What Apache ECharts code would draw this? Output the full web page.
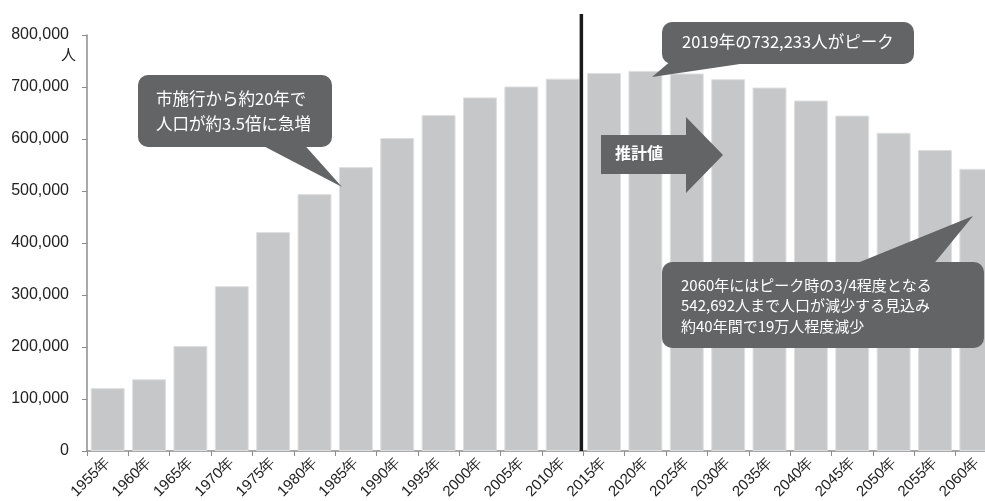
<!DOCTYPE html>
<html>
<head>
<meta charset="utf-8">
<script src="https://cdn.jsdelivr.net/npm/echarts@6/dist/echarts.min.js"></script>
<style>
  html, body { margin: 0; padding: 0; background: #fff; }
  #chart { width: 985px; height: 501px; }
</style>
</head>
<body>
<div id="chart"></div>
<script>
// Population by year (actual up to 2010, projection from 2015)
const years = ['1955年','1960年','1965年','1970年','1975年','1980年','1985年','1990年','1995年','2000年','2005年',
               '2010年','2015年','2020年','2025年','2030年','2035年','2040年','2045年','2050年','2055年','2060年'];
const population = [121000, 138000, 202000, 317000, 421000, 494000, 546000, 602000, 646000, 680000, 701000,
                    716000, 727000, 731000, 726000, 715000, 699000, 674000, 645000, 612000, 579000, 542692];
const yTicks = { min: 0, max: 800000, interval: 100000 };
const projectionStart = '2015年';

const chart = echarts.init(document.getElementById('chart'));
const calloutFill = '#636466';
const cjkFont = '"Noto Sans CJK JP", "Noto Sans", sans-serif';
const latinFont = '"Liberation Sans", Arial, sans-serif';

chart.setOption({
  animation: false,
  backgroundColor: '#ffffff',
  grid: { left: 87, right: -12, top: 35, bottom: 50, outerBoundsMode: 'none', containLabel: false },
  xAxis: {
    type: 'category',
    data: years,
    boundaryGap: true,
    axisLine: { lineStyle: { color: '#8c8c8c', width: 1.5 } },
    axisTick: { show: true, length: 5, lineStyle: { color: '#8c8c8c' } },
    axisLabel: { rotate: 45, fontSize: 15, color: '#222', margin: 9, interval: 0,
                 fontFamily: latinFont }
  },
  yAxis: {
    type: 'value',
    min: yTicks.min, max: yTicks.max, interval: yTicks.interval,
    splitLine: { show: false },
    axisLine: { show: true, lineStyle: { color: '#8c8c8c', width: 1.5 } },
    axisTick: { show: true, length: 5, lineStyle: { color: '#8c8c8c' } },
    axisLabel: {
      fontSize: 16, color: '#222', margin: 18, fontFamily: latinFont,
      formatter: v => v.toLocaleString('en-US')
    }
  },
  series: [{
    type: 'bar',
    data: population,
    barCategoryGap: '18%',
    itemStyle: { color: '#c6c7c9', borderColor: '#dedfe0', borderWidth: 1 },
    silent: true
  }]
});

// Divider between actual and projected values, placed midway between category centers
const idx = years.indexOf(projectionStart);
const xPrev = chart.convertToPixel({ xAxisIndex: 0 }, years[idx - 1]);
const xNext = chart.convertToPixel({ xAxisIndex: 0 }, years[idx]);
const dividerX = (xPrev + xNext) / 2 - 2;
const yBase = chart.convertToPixel({ yAxisIndex: 0 }, 0);

function callout(x, y, w, h, tail, lines, textX, textY, lineH, size) {
  return {
    type: 'group',
    z: 100,
    children: [
      { type: 'polygon', z: 100, shape: { points: tail }, style: { fill: calloutFill } },
      { type: 'rect', z: 100, shape: { x: x, y: y, width: w, height: h, r: 10 }, style: { fill: calloutFill } },
      { type: 'text', z: 101, x: textX, y: textY,
        style: { text: lines.join('\n'), fill: '#fff', font: size + 'px ' + cjkFont,
                 lineHeight: lineH, textVerticalAlign: 'top' } }
    ]
  };
}

chart.setOption({
  graphic: [
    { type: 'text', left: 61, top: 47, z: 100,
      style: { text: '人', fill: '#222', font: '15px ' + cjkFont } },
    { type: 'line', z: 100, shape: { x1: dividerX, y1: 14, x2: dividerX, y2: yBase },
      style: { stroke: '#1a1a1a', lineWidth: 3.5 } },
    callout(138, 75, 194, 72, [[252, 140], [300, 140], [342, 187]],
            ['市施行から約20年で', '人口が約3.5倍に急増'], 156, 86, 25, 16.5),
    callout(662, 22, 252, 42, [[672, 60], [767, 60], [652, 77]],
            ['2019年の732,233人がピーク'], 682, 32, 20, 16.5),
    callout(662, 262, 322, 86, [[850, 266], [932, 266], [973, 216]],
            ['2060年にはピーク時の3/4程度となる', '542,692人まで人口が減少する見込み', '約40年間で19万人程度減少'],
            681, 275, 20.5, 15),
    // projection arrow
    { type: 'polygon', z: 100,
      shape: { points: [[601, 135], [686, 135], [686, 117], [723, 155], [686, 193], [686, 174], [601, 174]] },
      style: { fill: calloutFill } },
    { type: 'text', x: 615, y: 145, z: 101,
      style: { text: '推計値', fill: '#fff', font: 'bold 16px ' + cjkFont, textVerticalAlign: 'top' } }
  ]
});
</script>
</body>
</html>
